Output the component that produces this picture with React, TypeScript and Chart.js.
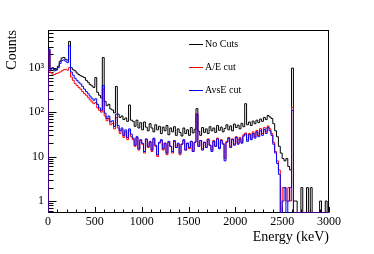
import React, { useEffect, useRef } from 'react';
import { Chart, registerables } from 'chart.js';

Chart.register(...registerables);

// ---- data ----
const BIN_WIDTH = 20; // keV per bin, bins start at 0 keV
const X_MIN = 0;
const X_MAX = 3000;
const Y_MIN = 0.537;
const Y_MAX = 7060;
const X_TICKS = [0, 500, 1000, 1500, 2000, 2500, 3000];
const Y_TICKS = [1, 10, 100, 1000];
const Y_TICK_LABELS = ['1', '10', '10²', '10³'];
const SERIES_NAMES = ['No Cuts', 'A/E cut', 'AvsE cut'];
const SERIES_COLORS = ['#000000', '#ff0000', '#0000ff'];

const noCuts = [
  2600, 950, 1000, 900, 920, 1080, 1400, 1650, 1700, 1550,
  1480, 3900, 1000, 900, 850, 760, 700, 660, 630, 600,
  520, 470, 420, 390, 360, 600, 280, 240, 210, 1700,
  175, 140, 150, 118, 112, 96, 380, 90, 76, 82,
  68, 74, 62, 145, 66, 62, 48, 66, 44, 58,
  40, 60, 46, 38, 55, 44, 36, 52, 40, 48,
  33, 46, 38, 50, 31, 44, 36, 47, 30, 42,
  35, 29, 44, 33, 40, 30, 45, 34, 41, 120,
  37, 30, 45, 35, 42, 33, 47, 38, 44, 35,
  50, 39, 46, 36, 43, 52, 40, 49, 38, 54,
  45, 51, 42, 56, 47, 155, 52, 60, 50, 63,
  55, 66, 58, 70, 62, 76, 68, 84, 78, 72,
  55, 38, 28, 17, 12, 9, 8, 9, 6, 5,
  980, 1, 1, 0, 0, 2, 0, 0, 2, 0,
  2, 0, 0, 0, 0, 1, 0, 0, 1, 0,
];

const aeCut = [
  2400, 780, 720, 700, 740, 760, 800, 850, 900, 920,
  880, 1000, 620, 520, 440, 400, 360, 330, 290, 260,
  240, 215, 190, 170, 155, 165, 125, 110, 100, 330,
  82, 64, 72, 52, 56, 42, 76, 44, 33, 40,
  27, 36, 24, 38, 28, 24, 17, 27, 14, 23,
  19, 12, 24, 16, 21, 13, 25, 17, 10, 20,
  23, 14, 20, 11, 21, 17, 12, 22, 16, 19,
  11, 19, 23, 14, 20, 15, 22, 13, 21, 92,
  17, 23, 15, 21, 16, 25, 18, 14, 23, 17,
  26, 16, 24, 20, 9, 22, 27, 17, 25, 19,
  28, 20, 27, 21, 31, 34, 24, 33, 26, 36,
  28, 39, 30, 43, 33, 45, 36, 49, 42, 33,
  21, 13, 8, 5, 0, 2, 2, 1, 2, 1,
  128, 0, 0, 0, 0, 0, 0, 0, 0, 0,
  0, 0, 0, 0, 0, 0, 0, 0, 0, 0,
];

const avseCut = [
  2600, 920, 960, 850, 880, 1000, 1250, 1450, 1500, 1400,
  1300, 3100, 800, 680, 580, 520, 470, 430, 380, 330,
  290, 260, 230, 205, 185, 200, 150, 125, 110, 400,
  95, 72, 82, 60, 64, 48, 90, 50, 38, 44,
  30, 40, 27, 42, 32, 26, 18, 28, 15, 24,
  20, 13, 25, 17, 22, 14, 26, 18, 11, 21,
  24, 15, 20, 12, 22, 17, 13, 23, 16, 20,
  12, 19, 24, 14, 20, 16, 22, 13, 21, 90,
  17, 23, 14, 21, 16, 24, 18, 13, 22, 17,
  25, 15, 23, 19, 8, 21, 26, 16, 24, 18,
  27, 19, 25, 20, 29, 32, 22, 31, 24, 33,
  26, 36, 28, 39, 30, 41, 33, 45, 38, 30,
  19, 12, 7, 4, 0, 1, 2, 0, 1, 2,
  110, 0, 0, 0, 0, 0, 0, 0, 0, 0,
  0, 0, 0, 0, 0, 0, 0, 0, 0, 0,
];

const FONT = "'Liberation Serif', 'Times New Roman', serif";

function histPoints(vals: number[]) {
  const pts: { x: number; y: number }[] = [{ x: X_MIN, y: Y_MIN }];
  vals.forEach((v, i) => pts.push({ x: X_MIN + i * BIN_WIDTH, y: v > 0 ? v : Y_MIN }));
  const last = vals[vals.length - 1];
  const end = X_MIN + vals.length * BIN_WIDTH;
  pts.push({ x: end, y: last > 0 ? last : Y_MIN });
  pts.push({ x: end, y: Y_MIN });
  return pts;
}

const framePlugin = {
  id: 'rootFrame',
  beforeDatasetsDraw(chart: any) {
    const { ctx, chartArea, scales } = chart;
    const L = Math.round(chartArea.left) + 0.5;
    const R = Math.round(chartArea.right) - 0.5;
    const T = Math.round(chartArea.top) + 0.5;
    const B = Math.round(chartArea.bottom) - 0.5;
    ctx.save();
    ctx.strokeStyle = '#000';
    ctx.lineWidth = 1;
    ctx.strokeRect(L, T, R - L, B - T);
    ctx.beginPath();
    for (let v = X_MIN; v <= X_MAX; v += 100) {
      const px = Math.round(scales.x.getPixelForValue(v)) + 0.5;
      const len = v % 500 === 0 ? 5.5 : 3;
      ctx.moveTo(px, B);
      ctx.lineTo(px, B - len);
    }
    for (let d = 0.1; d <= 10000; d *= 10) {
      for (let m = 1; m <= 9; m++) {
        const v = d * m;
        if (v < Y_MIN || v > Y_MAX) continue;
        const py = Math.round(scales.y.getPixelForValue(v)) + 0.5;
        const len = m === 1 ? 8 : 5;
        ctx.moveTo(L, py);
        ctx.lineTo(L + len, py);
      }
    }
    ctx.stroke();
    ctx.restore();
  },
  afterDraw(chart: any) {
    const { ctx, chartArea } = chart;
    ctx.save();
    ctx.font = `10px ${FONT}`;
    ctx.textBaseline = 'middle';
    ctx.textAlign = 'left';
    const x0 = chartArea.left + 141;
    SERIES_NAMES.forEach((name, k) => {
      const y = Math.round(chartArea.top + 14 + k * 23) + 0.5;
      ctx.strokeStyle = SERIES_COLORS[k];
      ctx.lineWidth = 1;
      ctx.beginPath();
      ctx.moveTo(x0, y);
      ctx.lineTo(x0 + 14, y);
      ctx.stroke();
      ctx.fillStyle = '#000';
      ctx.fillText(name, x0 + 16, y);
    });
    ctx.restore();
  },
};

export default function App() {
  const ref = useRef<HTMLCanvasElement | null>(null);
  useEffect(() => {
    if (!ref.current) return;
    const series = [noCuts, aeCut, avseCut];
    const chart = new Chart(ref.current, {
      type: 'line',
      data: {
        datasets: series.map((vals, k) => ({
          label: SERIES_NAMES[k],
          data: histPoints(vals),
          borderColor: SERIES_COLORS[k],
          backgroundColor: SERIES_COLORS[k],
          borderWidth: 1,
          pointRadius: 0,
          stepped: true,
          fill: false,
          order: 3 - k,
        })),
      },
      options: {
        animation: false,
        responsive: true,
        maintainAspectRatio: false,
        layout: { padding: { left: 0, right: 45, top: 30, bottom: 0 } },
        plugins: { legend: { display: false }, tooltip: { enabled: false } },
        scales: {
          x: {
            type: 'linear',
            min: X_MIN,
            max: X_MAX,
            afterFit: (s: any) => { s.height = 41; },
            afterBuildTicks: (s: any) => { s.ticks = X_TICKS.map((v) => ({ value: v })); },
            grid: { display: false, drawTicks: false },
            border: { display: false },
            ticks: {
              font: { family: FONT, size: 12 },
              color: '#000',
              padding: 2,
              maxRotation: 0,
              autoSkip: false,
              callback: (v: any) => String(v),
            },
            title: {
              display: true,
              text: 'Energy (keV)',
              align: 'end',
              color: '#000',
              font: { family: FONT, size: 14 },
              padding: { top: 0, bottom: 8 },
            },
          },
          y: {
            type: 'logarithmic',
            min: Y_MIN,
            max: Y_MAX,
            afterFit: (s: any) => { s.width = 48; },
            afterBuildTicks: (s: any) => { s.ticks = Y_TICKS.map((v) => ({ value: v })); },
            grid: { display: false, drawTicks: false },
            border: { display: false },
            ticks: {
              font: { family: FONT, size: 12 },
              color: '#000',
              padding: 4,
              autoSkip: false,
              callback: (v: any) => {
                const i = Y_TICKS.indexOf(Number(v));
                return i >= 0 ? Y_TICK_LABELS[i] : '';
              },
            },
            title: {
              display: true,
              text: 'Counts',
              align: 'end',
              color: '#000',
              font: { family: FONT, size: 14 },
              padding: { top: 4, bottom: 0 },
            },
          },
        },
      },
      plugins: [framePlugin],
    } as any);
    return () => chart.destroy();
  }, []);
  return (
    <div style={{ position: 'fixed', left: 0, top: 0, width: 374, height: 254, background: '#fff' }}>
      <canvas ref={ref} />
    </div>
  );
}
